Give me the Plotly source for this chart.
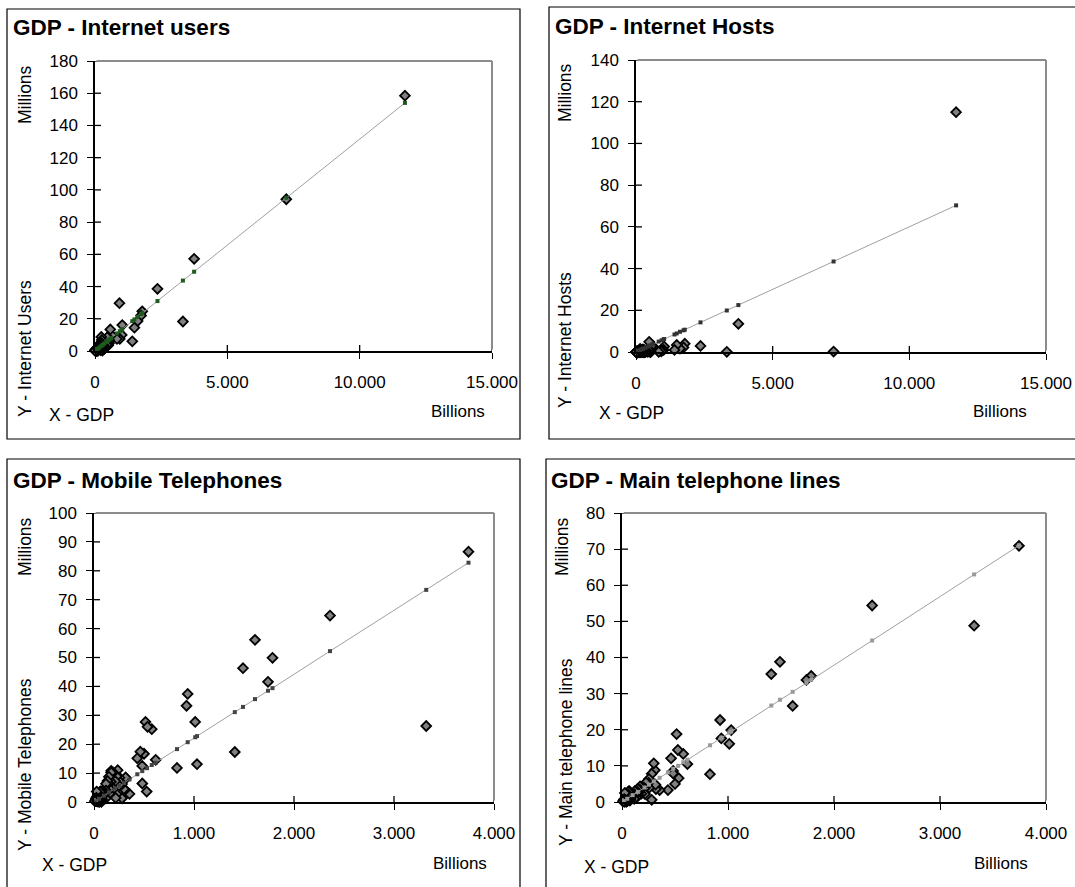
import plotly.graph_objects as go

# ---------------- data ----------------
countries = ["United States", "China", "Japan", "India", "Germany", "United Kingdom", "France", "Italy",
             "Brazil", "Russia", "Canada", "Mexico", "Spain", "South Korea", "Indonesia", "Australia",
             "Taiwan", "Turkey", "Thailand", "Iran", "South Africa", "Argentina", "Netherlands", "Poland",
             "Philippines", "Pakistan", "Saudi Arabia", "Egypt", "Ukraine", "Belgium", "Colombia",
             "Bangladesh", "Malaysia", "Sweden", "Austria", "Switzerland", "Vietnam", "Greece",
             "Hong Kong", "Algeria", "Portugal", "Norway", "Denmark", "Czech Republic", "Romania", "Chile",
             "Peru", "Finland", "Hungary", "Venezuela", "Morocco", "Ireland", "Israel", "Singapore",
             "Kazakhstan", "Nigeria", "New Zealand", "Sri Lanka", "Slovakia", "Myanmar", "Tunisia",
             "Belarus", "UAE", "Bulgaria", "Syria", "Dominican Rep.", "Guatemala", "Ethiopia", "Croatia",
             "Uruguay", "Ecuador", "Ghana", "Uzbekistan", "Lithuania", "Kuwait", "Uganda", "Nepal",
             "Slovenia", "Costa Rica", "Kenya", "El Salvador", "Azerbaijan", "Paraguay", "Serbia",
             "Luxembourg", "Latvia", "Jordan", "Bolivia", "Angola", "Tanzania", "Panama", "Estonia",
             "Lebanon", "Qatar", "Yemen", "Iceland"]

# GDP, billions
gdp = [11711, 7229, 3745, 3322, 2360, 1785, 1740, 1610,
       1490, 1408, 1030, 1012, 937, 925, 830, 617,
       578, 515, 535, 527, 500, 483, 482, 463,
       433, 355, 320, 310, 300, 316, 280,
       280, 237, 255, 255, 251, 227, 226,
       213, 217, 190, 183, 174, 172, 171, 169,
       155, 151, 149, 145, 134, 126, 120, 120,
       118, 115, 92, 80, 79, 74, 70,
       70, 64, 61, 60, 60, 59, 54, 50,
       50, 49, 48, 47, 45, 40, 40, 40,
       39, 39, 33, 32, 30, 29, 27,
       27, 26, 25, 25, 24, 23, 20, 19,
       19, 19, 16, 9]

# Internet users, millions
internet_users = [158.5, 94.2, 57.2, 18.3, 38.6, 24.6, 22.0, 18.6,
                  14.5, 6.0, 16.1, 10.0, 7.5, 29.7, 7.5, 10.0,
                  13.4, 5.5, 6.9, 4.8, 3.5, 4.1, 8.5, 8.5,
                  4.0, 1.5, 1.5, 3.0, 1.0, 3.8, 2.7,
                  0.24, 8.7, 6.8, 3.7, 4.9, 3.5, 1.7,
                  4.9, 0.5, 3.6, 2.3, 2.8, 2.7, 4.0, 3.6,
                  2.9, 2.7, 1.6, 2.3, 1.0, 1.3, 2.0, 2.1,
                  0.25, 0.75, 2.1, 0.2, 1.4, 0.03, 0.6,
                  1.4, 1.1, 0.6, 0.2, 0.5, 0.4, 0.08, 1.0,
                  0.7, 0.5, 0.2, 0.5, 0.7, 0.6, 0.1, 0.1,
                  0.8, 0.8, 0.4, 0.6, 0.3, 0.1, 1.0,
                  0.2, 0.8, 0.5, 0.3, 0.1, 0.25, 0.2, 0.7,
                  0.5, 0.1, 0.1, 0.2]

# Internet hosts, millions
internet_hosts = [115.0, 0.2, 13.5, 0.1, 2.9, 4.0, 2.2, 1.6,
                  3.4, 1.0, 2.6, 1.0, 0.9, 0.3, 0.1, 2.8,
                  3.0, 0.4, 0.1, 0.0, 0.3, 0.6, 4.9, 1.0,
                  0.05, 0.02, 0.01, 0.0, 0.1, 0.9, 0.1,
                  0.0, 0.2, 1.2, 0.8, 1.0, 0.0, 0.2,
                  0.6, 0.0, 0.3, 0.5, 0.9, 0.4, 0.1, 0.2,
                  0.0, 1.5, 0.6, 0.03, 0.0, 0.3, 0.7, 0.7,
                  0.0, 0.0, 0.6, 0.0, 0.2, 0.0, 0.0,
                  0.0, 0.1, 0.1, 0.0, 0.0, 0.0, 0.0, 0.1,
                  0.1, 0.0, 0.0, 0.0, 0.1, 0.0, 0.0, 0.0,
                  0.1, 0.0, 0.0, 0.0, 0.0, 0.0, 0.0,
                  0.0, 0.0, 0.0, 0.0, 0.0, 0.0, 0.0, 0.1,
                  0.0, 0.0, 0.0, 0.0]

# Mobile telephones, millions (US and China not shown on this chart)
mobile_phones = [None, None, 86.6, 26.3, 64.5, 49.9, 41.6, 56.1,
                 46.3, 17.3, 13.1, 27.7, 37.4, 33.3, 11.8, 14.6,
                 25.2, 27.7, 26.0, 3.6, 16.7, 6.4, 12.5, 17.4,
                 15.1, 2.8, 8.2, 4.2, 4.5, 8.5, 6.2,
                 1.3, 11.0, 8.4, 7.1, 5.7, 2.7, 8.9,
                 7.2, 1.4, 10.2, 4.2, 5.2, 10.8, 10.2, 7.0,
                 2.9, 4.7, 8.7, 6.5, 7.3, 3.4, 6.3, 3.9,
                 1.3, 3.1, 2.4, 0.9, 3.7, 0.03, 1.8,
                 1.1, 3.7, 3.5, 0.4, 2.1, 1.6, 0.05, 2.3,
                 0.5, 2.4, 0.8, 0.3, 2.2, 1.4, 0.8, 0.1,
                 1.7, 0.3, 1.6, 1.1, 1.2, 1.8, 3.6,
                 0.5, 1.2, 1.3, 1.3, 0.3, 1.3, 0.8, 1.0,
                 0.8, 0.5, 0.4, 0.3]

# Main telephone lines, millions (US and China not shown on this chart)
main_lines = [None, None, 70.9, 48.8, 54.4, 34.9, 33.8, 26.6,
              38.8, 35.4, 19.9, 16.1, 17.6, 22.7, 7.7, 10.5,
              13.3, 18.8, 6.6, 14.4, 5.0, 8.6, 7.9, 12.1,
              3.3, 3.3, 3.6, 8.8, 10.7, 4.8, 7.8,
              0.6, 4.6, 6.4, 3.9, 5.3, 4.4, 5.4,
              3.8, 2.2, 4.2, 2.3, 3.4, 3.4, 4.3, 3.4,
              1.8, 2.4, 3.6, 2.8, 1.3, 1.9, 3.0, 1.9,
              2.1, 0.85, 1.8, 0.8, 1.3, 0.4, 1.2,
              3.0, 1.1, 2.9, 2.1, 0.9, 0.8, 0.4, 1.8,
              1.0, 1.6, 0.3, 1.7, 0.8, 0.5, 0.06, 0.4,
              0.8, 1.0, 0.3, 0.7, 1.0, 0.3, 2.5,
              0.4, 0.7, 0.6, 0.6, 0.1, 0.15, 0.4, 0.4,
              0.7, 0.2, 0.5, 0.2]

# fitted (trend) points shown on each chart
trend_gdp = [9, 50, 100, 150, 213, 255, 300, 355, 433, 483, 530, 578, 617, 830, 937,
             1012, 1030, 1408, 1490, 1610, 1740, 1785, 2360, 3322, 3745, 7229, 11711]
trend_users = [0.1, 0.7, 1.3, 2.0, 2.8, 3.4, 3.9, 4.7, 5.7, 6.4, 7.0, 7.6, 8.1, 10.9, 12.3,
               13.3, 13.5, 18.5, 19.6, 21.2, 22.9, 23.5, 31.0, 43.7, 49.2, 95.1, 154.0]
trend_hosts = [0.05, 0.3, 0.6, 0.9, 1.3, 1.5, 1.8, 2.1, 2.6, 2.9, 3.2, 3.5, 3.7, 5.0, 5.6,
               6.1, 6.2, 8.4, 8.9, 9.7, 10.4, 10.7, 14.2, 19.9, 22.5, 43.4, 70.3]
trend_gdp_small = trend_gdp[:-2]
trend_mobile = [0.2, 1.1, 2.2, 3.3, 4.7, 5.6, 6.6, 7.8, 9.6, 10.7, 11.7, 12.8, 13.6, 18.3, 20.7,
                22.4, 22.8, 31.1, 32.9, 35.6, 38.5, 39.4, 52.2, 73.4, 82.8]
trend_lines = [0.2, 0.9, 1.9, 2.8, 4.0, 4.8, 5.7, 6.7, 8.2, 9.2, 10.0, 11.0, 11.7, 15.7, 17.8,
               19.2, 19.5, 26.7, 28.3, 30.5, 33.0, 33.8, 44.7, 63.0, 71.0]

titles = ["GDP - Internet users", "GDP - Internet Hosts", "GDP - Mobile Telephones", "GDP - Main telephone lines"]
y_titles = ["Y - Internet Users", "Y - Internet Hosts", "Y - Mobile Telephones", "Y - Main telephone lines"]
x_ticks_big = [0, 5000, 10000, 15000]
x_ticks_big_text = ["0", "5.000", "10.000", "15.000"]
x_ticks_small = [0, 1000, 2000, 3000, 4000]
x_ticks_small_text = ["0", "1.000", "2.000", "3.000", "4.000"]

# ---------------- layout helpers ----------------
W, H = 1075, 887
FONT = "Arial, Liberation Sans, sans-serif"


def fx(px):
    return px / W


def fy(py):
    return 1 - py / H


# plot areas in pixels: (left, right, top, bottom)
areas = [(95, 492, 61, 351), (636, 1046, 60, 352), (94, 494, 513, 802), (622, 1046, 513, 802)]
frames = [(7, 520, 9, 439), (549, 1095, 7, 439), (7, 520, 459, 900), (546, 1095, 459, 900)]

panels = [
    dict(x=gdp, y=internet_users, tx=trend_gdp, ty=trend_users, tcol="#1f5a1f",
         xr=[0, 15000], xt=x_ticks_big, xtt=x_ticks_big_text, yr=[0, 180], yd=20),
    dict(x=gdp, y=internet_hosts, tx=trend_gdp, ty=trend_hosts, tcol="#333333",
         xr=[0, 15000], xt=x_ticks_big, xtt=x_ticks_big_text, yr=[0, 140], yd=20),
    dict(x=gdp, y=mobile_phones, tx=trend_gdp_small, ty=trend_mobile, tcol="#444444",
         xr=[0, 4000], xt=x_ticks_small, xtt=x_ticks_small_text, yr=[0, 100], yd=10),
    dict(x=gdp, y=main_lines, tx=trend_gdp_small, ty=trend_lines, tcol="#9a9a9a",
         xr=[0, 4000], xt=x_ticks_small, xtt=x_ticks_small_text, yr=[0, 80], yd=10),
]

fig = go.Figure()
shapes = []
annotations = []
layout = dict(template="none", width=W, height=H, autosize=False,
              margin=dict(l=0, r=0, t=0, b=0, pad=0, autoexpand=False),
              paper_bgcolor="white", plot_bgcolor="white", showlegend=False,
              font=dict(family=FONT, color="black"))

for i, p in enumerate(panels):
    n = "" if i == 0 else str(i + 1)
    xa, ya = "x" + n, "y" + n
    L, R, T, B = areas[i]
    fig.add_trace(go.Scatter(x=p["x"], y=p["y"], mode="markers", xaxis=xa, yaxis=ya, text=countries,
                             marker=dict(symbol="diamond", size=7.5, color="#808080",
                                         line=dict(color="black", width=1.8)),
                             cliponaxis=False))
    fig.add_trace(go.Scatter(x=p["tx"], y=p["ty"], mode="lines", xaxis=xa, yaxis=ya,
                             line=dict(color="#a0a0a0", width=1)))
    fig.add_trace(go.Scatter(x=p["tx"], y=p["ty"], mode="markers", xaxis=xa, yaxis=ya,
                             marker=dict(symbol="square", size=4, color=p["tcol"], line=dict(width=0))))
    common = dict(showline=True, linecolor="black", linewidth=1.5, ticks="outside", ticklen=6,
                  tickwidth=1.3, tickcolor="black", showgrid=False, zeroline=False, fixedrange=True,
                  automargin=False, tickfont=dict(family=FONT, size=17, color="black"))
    layout["xaxis" + n] = dict(domain=[fx(L), fx(R)], range=p["xr"], tickmode="array", tickvals=p["xt"],
                               ticktext=p["xtt"], anchor=ya, ticklabelstandoff=9, **common)
    yvals = list(range(p["yr"][0], p["yr"][1] + 1, p["yd"]))
    layout["yaxis" + n] = dict(domain=[fy(B), fy(T)], range=p["yr"], tickmode="array", tickvals=yvals,
                               ticktext=[str(v) for v in yvals], anchor=xa, ticklabelstandoff=6, **common)
    pw, ph = R - L, B - T
    # inner halves of the crossing tick marks
    for v in yvals[1:]:
        shapes.append(dict(type="line", xref=xa + " domain", yref=ya, x0=0, x1=6 / pw, y0=v, y1=v,
                           line=dict(color="black", width=1.3)))
    for v in p["xt"][1:]:
        shapes.append(dict(type="line", xref=xa, yref=ya + " domain", x0=v, x1=v, y0=0, y1=6 / ph,
                           line=dict(color="black", width=1.3)))
    # grey top and right plot-area borders
    shapes.append(dict(type="line", xref=xa + " domain", yref=ya + " domain", x0=0.004, x1=1, y0=1, y1=1,
                       line=dict(color="#8c8c8c", width=2)))
    shapes.append(dict(type="line", xref=xa + " domain", yref=ya + " domain", x0=1, x1=1, y0=0.005, y1=1,
                       line=dict(color="#8c8c8c", width=2)))
    # outer frame
    fl, fr, ft, fb = frames[i]
    shapes.append(dict(type="rect", xref="paper", yref="paper", x0=fx(fl), x1=fx(fr), y0=fy(fb), y1=fy(ft),
                       line=dict(color="black", width=1.2), layer="below"))

# texts
title_pos = [(11, 28), (553, 27), (11, 480), (549, 480)]
millions_pos = [(25, 95), (565, 93), (25, 547), (562, 547)]
ytitle_pos = [(25, 349), (565, 340), (25, 765), (566, 752)]
xgdp_pos = [(47, 415), (597, 413), (40, 865), (582, 867)]
billions_pos = [(458, 412), (1000, 412), (460, 863), (1001, 863)]
for i in range(4):
    annotations.append(dict(text="<b>" + titles[i] + "</b>", x=fx(title_pos[i][0]), y=fy(title_pos[i][1]),
                            xref="paper", yref="paper", xanchor="left", yanchor="middle", showarrow=False,
                            font=dict(family=FONT, size=22.5, color="black")))
    annotations.append(dict(text="Millions", x=fx(millions_pos[i][0]), y=fy(millions_pos[i][1]),
                            xref="paper", yref="paper", textangle=-90, xanchor="center", yanchor="middle",
                            showarrow=False, font=dict(family=FONT, size=17.5, color="black")))
    annotations.append(dict(text=y_titles[i], x=fx(ytitle_pos[i][0]), y=fy(ytitle_pos[i][1]),
                            xref="paper", yref="paper", textangle=-90, xanchor="center", yanchor="middle",
                            showarrow=False, font=dict(family=FONT, size=17.5, color="black")))
    annotations.append(dict(text="X - GDP", x=fx(xgdp_pos[i][0]), y=fy(xgdp_pos[i][1]),
                            xref="paper", yref="paper", xanchor="left", yanchor="middle", showarrow=False,
                            font=dict(family=FONT, size=17.5, color="black")))
    annotations.append(dict(text="Billions", x=fx(billions_pos[i][0]), y=fy(billions_pos[i][1]),
                            xref="paper", yref="paper", xanchor="center", yanchor="middle", showarrow=False,
                            font=dict(family=FONT, size=17, color="black")))

layout["shapes"] = shapes
layout["annotations"] = annotations
fig.update_layout(**layout)
fig.write_html("out.html", config={"displayModeBar": False},
               post_script="document.body.style.margin='0';document.body.style.overflow='hidden';")
